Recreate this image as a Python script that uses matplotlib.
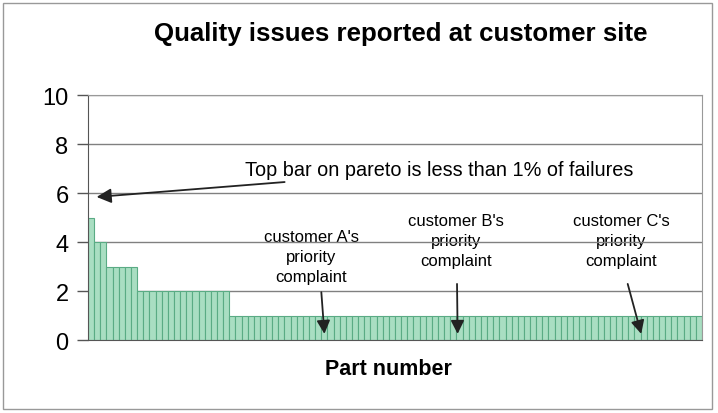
import numpy as np
import matplotlib
matplotlib.use("Agg")
import matplotlib.pyplot as plt
from matplotlib.patches import Rectangle

plt.rcParams['font.family'] = ['Liberation Sans', 'DejaVu Sans']

# issue count per part, and how many parts have that count (pareto order)
issue_levels = [5, 4, 3, 2, 1]
parts_per_level = [1, 2, 5, 15, 77]
y_ticks = [0, 2, 4, 6, 8, 10]

# customer notes and the bar each complaint arrow points at
customer_labels = ["customer A's\npriority\ncomplaint",
                   "customer B's\npriority\ncomplaint",
                   "customer C's\npriority\ncomplaint"]
customer_parts = [38.5, 60.2, 90.1]

counts = np.repeat(issue_levels, parts_per_level)
x = np.arange(len(counts))

fig = plt.figure(figsize=(7.18, 4.14), dpi=100)
ax = fig.add_axes([0.1226, 0.1763, 0.8551, 0.5917])

ax.bar(x, counts, width=1.0, align='edge', color='#a9dec2',
       edgecolor='#5aab84', linewidth=0.8, zorder=1)

ax.set_xlim(0, len(counts))
ax.set_ylim(0, 10)
ax.set_yticks(y_ticks)
ax.set_yticklabels([str(t) for t in y_ticks], fontsize=17)
ax.set_xticks([])
ax.tick_params(axis='y', direction='out', length=8, width=1, color='#555555', pad=6)
ax.set_axisbelow(True)
ax.yaxis.grid(True, color='#808080', linewidth=1)
for s in ['top', 'right']:
    ax.spines[s].set_color('#999999')
ax.spines['left'].set_color('#555555')
ax.spines['bottom'].set_color('#555555')

ax.set_xlabel('Part number', fontsize=15.5, fontweight='bold')
ax.xaxis.set_label_coords(0.489, -0.118)
ax.xaxis.label.set_va('center')
fig.text(0.5585, 0.918, 'Quality issues reported at customer site',
         ha='center', va='center', fontsize=18.6, fontweight='bold')

# top bar note
ax.annotate('Top bar on pareto is less than 1% of failures',
            xy=(1.4, 5.84), xytext=(25.6, 6.95),
            fontsize=14.3, ha='left', va='center',
            arrowprops=dict(arrowstyle='-|>', color='#222222', lw=1.3,
                            mutation_scale=22, shrinkA=0, shrinkB=0))

text_pos = [(36.4, 3.4), (59.9, 4.05), (86.8, 4.05)]
tail_pos = [(38.0, 1.95), (60.1, 2.29), (87.9, 2.29)]
for lab, part, tp, tl in zip(customer_labels, customer_parts, text_pos, tail_pos):
    ax.text(tp[0], tp[1], lab, ha='center', va='center', fontsize=12,
            linespacing=1.42, zorder=0.3)
    ax.annotate('', xy=(part, 0.25), xytext=tl,
                arrowprops=dict(arrowstyle='-|>', color='#222222', lw=1.3,
                                mutation_scale=20, shrinkA=0, shrinkB=0))

fig.patches.append(Rectangle((0.004, 0.01), 0.9876, 0.98, transform=fig.transFigure,
                             fill=False, edgecolor='#999999', linewidth=1))

fig.savefig('out.png', dpi=100)
